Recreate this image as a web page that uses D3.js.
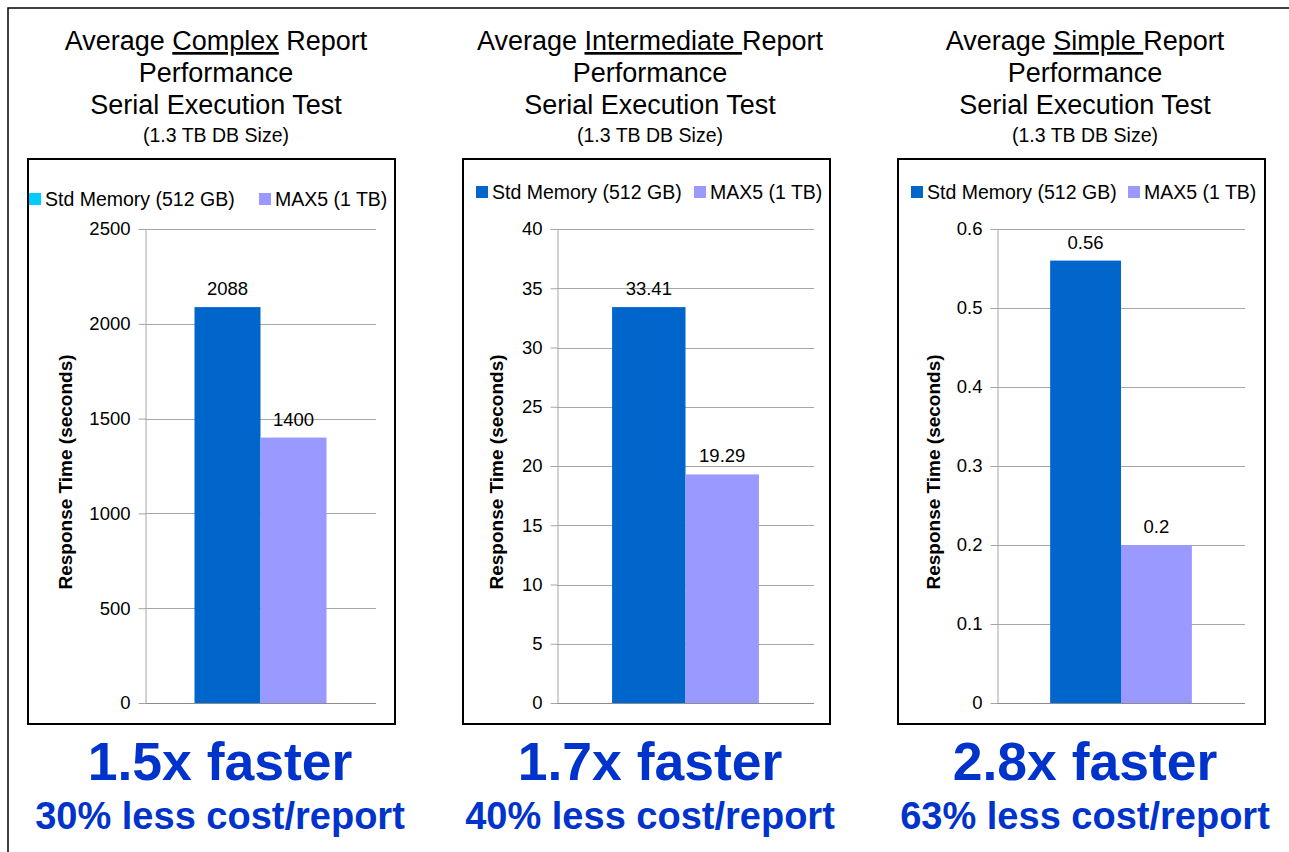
<!DOCTYPE html>
<html>
<head>
<meta charset="utf-8">
<script src="https://cdn.jsdelivr.net/npm/d3@7"></script>
<style>
  html, body { margin: 0; padding: 0; background: #fff; }
  svg { display: block; font-family: "Liberation Sans", Arial, Helvetica, sans-serif; }
</style>
</head>
<body>
<svg id="chart" width="1289" height="852"></svg>
<script>
// Report categories and the two memory configurations compared
const reportTypes = ["Complex", "Intermediate", "Simple"];
const seriesNames = ["Std Memory (512 GB)", "MAX5 (1 TB)"];

// Average response time, seconds
const stdMemory = [2088, 33.41, 0.56];
const max5 = [1400, 19.29, 0.2];

// Axis extents and tick counts per panel
const yMax = [2500, 40, 0.6];
const tickCounts = [5, 8, 6];

// Headline text below each panel
const speedups = ["1.5x faster", "1.7x faster", "2.8x faster"];
const costSavings = ["30% less cost/report", "40% less cost/report", "63% less cost/report"];

// Panel geometry
const layout = [
  { box: 28,  axisX: 145, gridEnd: 376,  titleX: 216,  labelX: 66,  legendY: 199,
    leg: [29, 259],  headX: 220 },
  { box: 463, axisX: 557, gridEnd: 814,  titleX: 650,  labelX: 497, legendY: 192,
    leg: [476, 694], headX: 650 },
  { box: 898, axisX: 997, gridEnd: 1245, titleX: 1085, labelX: 934, legendY: 192,
    leg: [911, 1128], headX: 1085 }
];
const boxW = 367, boxTop = 159, boxBottom = 724;
const plotTop = 229, plotBottom = 703;

const barColors = ["#0066CC", "#9999FF"];
const legendColors = [["#00CCFF", "#9999FF"], ["#0066CC", "#9999FF"], ["#0066CC", "#9999FF"]];
const headColor = "#0033CC";

const svg = d3.select("#chart");

// Outer frame
svg.append("path")
  .attr("d", "M8,852 V8 H1289")
  .attr("fill", "none").attr("stroke", "#000").attr("stroke-width", 1.5);

reportTypes.forEach((type, i) => {
  const L = layout[i];
  const g = svg.append("g");

  // Title block
  const title = g.append("text")
    .attr("x", L.titleX).attr("y", 50)
    .attr("text-anchor", "middle")
    .attr("font-size", 27).attr("fill", "#000");
  title.append("tspan").text("Average ");
  title.append("tspan").attr("text-decoration", "underline")
    .text(i === 0 ? type : type + "\u00a0");
  title.append("tspan").text(i === 0 ? " Report" : "Report");

  ["Performance", "Serial Execution Test"].forEach((line, k) => {
    g.append("text")
      .attr("x", L.titleX).attr("y", 82 + 32 * k)
      .attr("text-anchor", "middle")
      .attr("font-size", 27).attr("fill", "#000")
      .text(line);
  });
  g.append("text")
    .attr("x", L.titleX).attr("y", 142)
    .attr("text-anchor", "middle")
    .attr("font-size", 19.5).attr("fill", "#000")
    .text("(1.3 TB DB Size)");

  // Chart frame
  g.append("rect")
    .attr("x", L.box).attr("y", boxTop)
    .attr("width", boxW).attr("height", boxBottom - boxTop)
    .attr("fill", "#fff").attr("stroke", "#000").attr("stroke-width", 2);

  // Legend
  seriesNames.forEach((name, s) => {
    g.append("rect")
      .attr("x", L.leg[s]).attr("y", L.legendY - 6)
      .attr("width", 12).attr("height", 12)
      .attr("fill", legendColors[i][s]);
    g.append("text")
      .attr("x", L.leg[s] + 16).attr("y", L.legendY + 7)
      .attr("font-size", 19.5).attr("fill", "#000")
      .text(name);
  });

  // Scales
  const y = d3.scaleLinear().domain([0, yMax[i]]).range([plotBottom, plotTop]);
  const ticks = d3.ticks(0, yMax[i], tickCounts[i]);
  const x0 = d3.scaleBand().domain([type]).range([L.axisX, L.gridEnd])
    .paddingInner(0).paddingOuter(0.375);
  const x1 = d3.scaleBand().domain(seriesNames).range([0, x0.bandwidth()]).padding(0);

  // Gridlines
  g.append("g").selectAll("line").data(ticks).join("line")
    .attr("x1", L.axisX).attr("x2", L.gridEnd)
    .attr("y1", d => Math.round(y(d)) + 0.5).attr("y2", d => Math.round(y(d)) + 0.5)
    .attr("stroke", d => d === 0 ? "#8c8c8c" : "#a6a6a6").attr("stroke-width", 1);

  // Bars
  const values = [stdMemory[i], max5[i]];
  const bars = g.append("g").attr("transform", `translate(${x0(type)},0)`);
  bars.selectAll("rect").data(values).join("rect")
    .attr("x", (d, s) => x1(seriesNames[s]))
    .attr("y", d => y(d))
    .attr("width", x1.bandwidth())
    .attr("height", d => plotBottom - y(d))
    .attr("fill", (d, s) => barColors[s]);

  // Value labels
  bars.selectAll("text").data(values).join("text")
    .attr("x", (d, s) => x1(seriesNames[s]) + x1.bandwidth() / 2)
    .attr("y", d => y(d) - 12)
    .attr("text-anchor", "middle")
    .attr("font-size", 18.5).attr("fill", "#000")
    .text(d => d);

  // Y axis
  const axis = g.append("g")
    .attr("transform", `translate(${L.axisX + 0.5},0)`)
    .call(d3.axisLeft(y).tickValues(ticks).tickSize(7).tickSizeOuter(0)
      .tickPadding(8).tickFormat(d3.format("~g")));
  axis.select(".domain").attr("stroke", "#a6a6a6");
  axis.selectAll(".tick line").attr("stroke", "#a6a6a6");
  axis.selectAll(".tick text")
    .attr("font-size", 18.5).attr("fill", "#000")
    .attr("font-family", "'Liberation Sans', Arial, sans-serif");

  // Y axis title
  g.append("text")
    .attr("transform", `translate(${L.labelX + 6},${(plotTop + plotBottom) / 2 + 6}) rotate(-90)`)
    .attr("text-anchor", "middle")
    .attr("font-size", 19).attr("font-weight", "bold").attr("fill", "#000")
    .text("Response Time (seconds)");

  // Headlines
  g.append("text")
    .attr("x", L.headX).attr("y", 780)
    .attr("text-anchor", "middle")
    .attr("font-size", 53.5).attr("font-weight", "bold").attr("fill", headColor)
    .text(speedups[i]);
  g.append("text")
    .attr("x", L.headX).attr("y", 829)
    .attr("text-anchor", "middle")
    .attr("font-size", 38).attr("font-weight", "bold").attr("fill", headColor)
    .text(costSavings[i]);
});
</script>
</body>
</html>
